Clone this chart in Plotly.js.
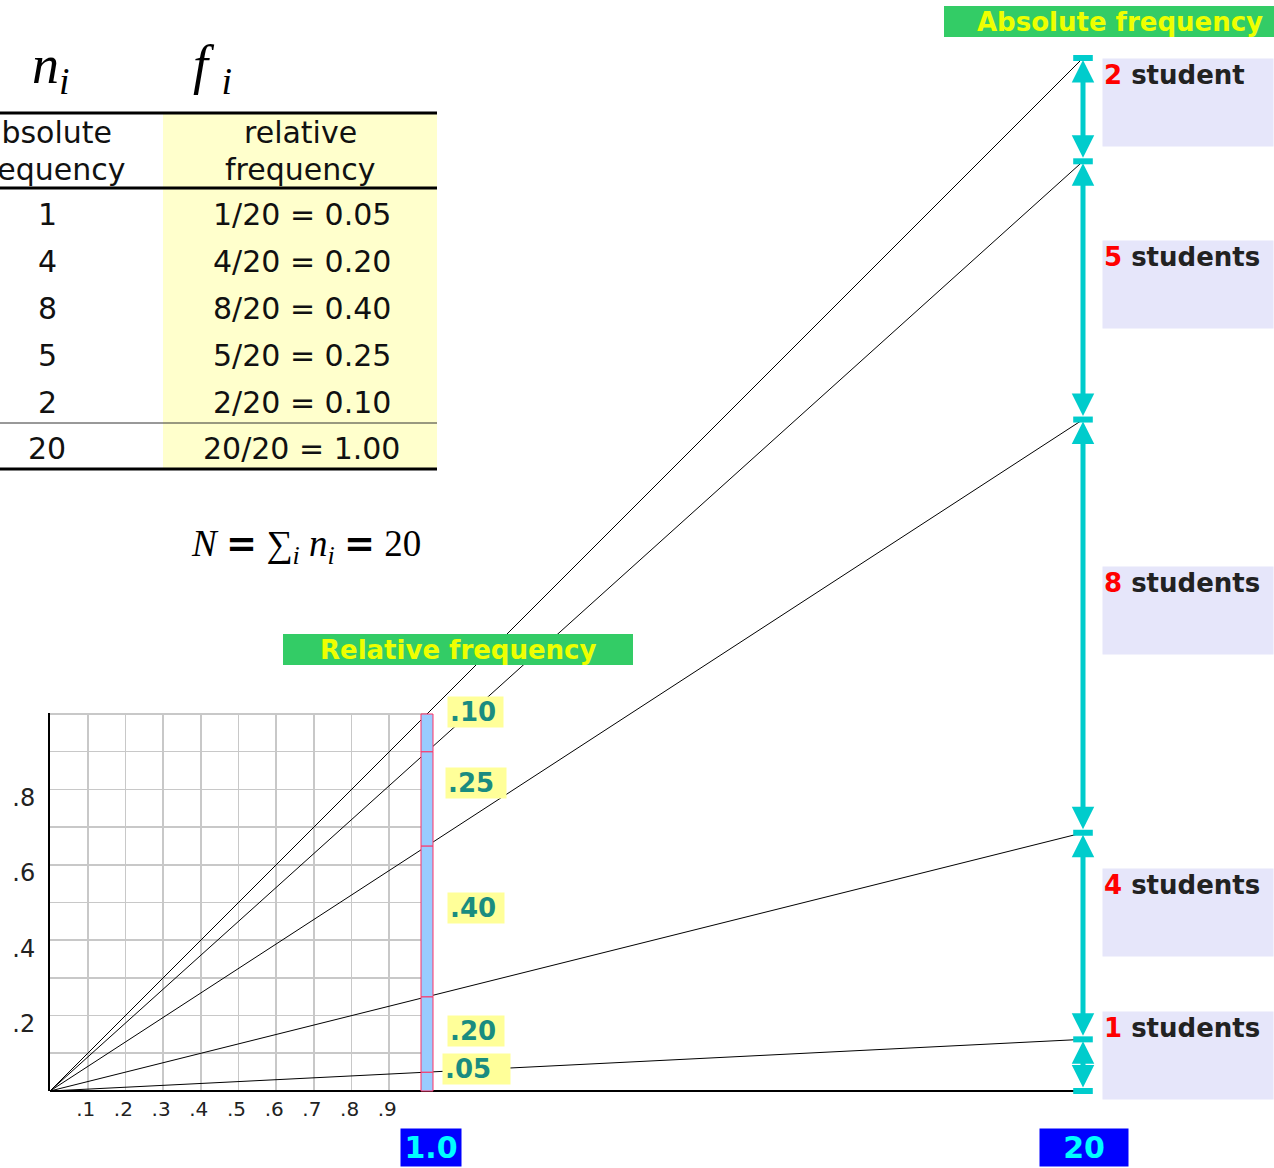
<!DOCTYPE html>
<html>
<head>
<meta charset="utf-8">
<script src="https://cdn.plot.ly/plotly-3.0.1.min.js"></script>
<style>html,body{margin:0;padding:0;background:#fff;}#chart{width:1274px;height:1168px;}</style>
</head>
<body>
<div id="chart"></div>
<script>
// ---------------- data ----------------
const absFreq = [1, 4, 8, 5, 2];            // n_i (bottom to top)
const N = 20;
const relLabels = ['.05', '.20', '.40', '.25', '.10'];
const studentWords = ['students', 'students', 'students', 'students', 'student'];
const xTickVals = [0.1, 0.2, 0.3, 0.4, 0.5, 0.6, 0.7, 0.8, 0.9];
const xTickText = ['.1', '.2', '.3', '.4', '.5', '.6', '.7', '.8', '.9'];
const yTickVals = [0.1, 0.2, 0.3, 0.4, 0.5, 0.6, 0.7, 0.8, 0.9, 1.0];
const yTickText = [' ', '.2', ' ', '.4', ' ', '.6', ' ', '.8', ' ', ' '];

// ---------------- layout geometry ----------------
const W = 1274, H = 1168;
const OX = 50, OY = 1091;          // origin pixel
const REL_UNIT = 377;              // px per 1.0 relative
const ABS_UNIT = 51.65;            // px per student
const GRID_TOP = 1.003;
const PX = x => x / W;
const PY = y => 1 - y / H;

// positions of decorations
const relLabelY = [0.0584, 0.1592, 0.4854, 0.8170, 1.0053];
const relLabelLeft = [442, 447, 447, 445, 447];
const relLabelWidth = [63, 52, 52, 56, 51];
const studentBoxTop = [1.549, 4.317, 10.165, 16.476, 20.0];

// derived
const rel = absFreq.map(n => n / N);
const cum = [0];
absFreq.forEach(n => cum.push(cum[cum.length - 1] + n));
const relBase = cum.slice(0, -1).map(c => c / N);

const traces = [];

// lines from origin to cumulative absolute points
const lx = [], ly = [];
cum.slice(1).forEach(c => { lx.push(0, N, null); ly.push(0, c, null); });
traces.push({type: 'scatter', mode: 'lines', x: lx, y: ly, xaxis: 'x2', yaxis: 'y2',
  line: {color: '#000', width: 1}, hoverinfo: 'skip', showlegend: false});
traces.push({type: 'scatter', mode: 'lines', x: [0, N], y: [0, 0], xaxis: 'x2', yaxis: 'y2',
  line: {color: '#000', width: 2}, hoverinfo: 'skip', showlegend: false});
// tick marks at cumulative points
traces.push({type: 'scatter', mode: 'markers', x: cum.map(() => N), y: cum, xaxis: 'x2', yaxis: 'y2',
  marker: {symbol: 'line-ew', size: 14, color: '#00cccc', line: {color: '#00cccc', width: 6}},
  hoverinfo: 'skip', showlegend: false, cliponaxis: false});
// stacked relative bar
traces.push({type: 'bar', x: rel.map(() => 1), y: rel, base: relBase, width: 12 / REL_UNIT,
  xaxis: 'x3', yaxis: 'y3', marker: {color: '#99ccff', line: {color: '#ff3366', width: 1}},
  hoverinfo: 'skip', showlegend: false});
// dummy trace to show grid axes
traces.push({type: 'scatter', mode: 'markers', x: [0], y: [0], xaxis: 'x', yaxis: 'y',
  marker: {size: 0.1, color: 'rgba(0,0,0,0)'}, hoverinfo: 'skip', showlegend: false});

const shapes = [];
const annotations = [];
const sans = 'DejaVu Sans';
const serif = 'Liberation Serif';
const pAnn = (x, y, text, font, extra) => annotations.push(Object.assign({xref: 'paper', yref: 'paper',
  x: PX(x), y: PY(y), text, showarrow: false, xanchor: 'center', yanchor: 'middle', font}, extra || {}));

// ---- table ----
shapes.push({type: 'rect', xref: 'paper', yref: 'paper', x0: PX(163), x1: PX(437), y0: PY(469), y1: PY(113),
  fillcolor: '#ffffcc', line: {width: 0}, layer: 'below'});
[[113, 3], [188, 3], [423, 1], [469, 3]].forEach(([y, w]) => {
  shapes.push({type: 'line', xref: 'paper', yref: 'paper', x0: 0, x1: PX(437), y0: PY(y), y1: PY(y),
    line: {color: w > 1 ? '#000' : '#333', width: w}});
});
const tFont = {family: sans, size: 30, color: '#111'};
pAnn(48, 133, 'absolute', tFont); pAnn(50, 169, 'frequency', tFont);
pAnn(300, 133, 'relative', tFont); pAnn(300, 169, 'frequency', tFont);
const rowY = [214, 261, 308, 355, 402];
absFreq.forEach((n, i) => {
  pAnn(47, rowY[i], String(n), tFont);
  pAnn(302, rowY[i], `${n}/${N} = ${(n / N).toFixed(2)}`, tFont);
});
pAnn(47, 449, String(N), tFont);
pAnn(301, 449, `${N}/${N} = ${(N / N).toFixed(2)}`, tFont);

// header symbols
pAnn(51, 68, '<i>n</i><sub><i>i</i></sub>', {family: serif, size: 54, color: '#000'});
pAnn(212, 68, '<i>f</i> <sub><i>i</i></sub>', {family: serif, size: 54, color: '#000'});
// formula
const eq = '<span style="font-family:\'DejaVu Sans\'"><b>=</b></span>';
pAnn(306, 546, `<i>N</i> ${eq} ∑<sub><i>i</i></sub> <i>n</i><sub><i>i</i></sub> ${eq} ${N}`,
  {family: serif, size: 37, color: '#000'});

// ---- banners ----
shapes.push({type: 'rect', xref: 'paper', yref: 'paper', x0: PX(283), x1: PX(633), y0: PY(665), y1: PY(634),
  fillcolor: '#33cc66', line: {width: 0}});
pAnn(458, 650, '<b>Relative frequency</b>', {family: sans, size: 26, color: '#eeff00'});
shapes.push({type: 'rect', xref: 'paper', yref: 'paper', x0: PX(944), x1: PX(1276), y0: PY(37), y1: PY(6),
  fillcolor: '#33cc66', line: {width: 0}});
pAnn(1120, 22, '<b>Absolute frequency</b>', {family: sans, size: 26, color: '#eeff00'});

// ---- relative labels on bar ----
relLabels.forEach((t, i) => {
  annotations.push({xref: 'paper', yref: 'y3', x: PX(relLabelLeft[i]), y: relLabelY[i], text: '<b>' + t + '</b>',
    showarrow: false, xanchor: 'left', yanchor: 'middle', align: 'left', width: relLabelWidth[i], height: 26,
    borderpad: 2, bgcolor: '#ffff99', font: {family: sans, size: 26, color: '#1a8c80'}});
});

// ---- arrows between cumulative points ----
for (let k = 0; k < absFreq.length; k++) {
  annotations.push({xref: 'x2', yref: 'y2', axref: 'x2', ayref: 'y2', x: N, y: cum[k + 1], ax: N, ay: cum[k],
    text: '', showarrow: true, arrowside: 'end+start', arrowhead: 2, startarrowhead: 2,
    arrowsize: 0.9, startarrowsize: 0.9, arrowwidth: 5, arrowcolor: '#00cccc', standoff: 2, startstandoff: 2});
}

// ---- student boxes ----
absFreq.forEach((n, i) => {
  annotations.push({xref: 'paper', yref: 'y2', x: PX(1102), y: studentBoxTop[i], xanchor: 'left', yanchor: 'top',
    text: `<b><span style="color:#ff0000">${n}</span> ${studentWords[i]}</b>`, showarrow: false,
    align: 'left', valign: 'top', width: 168, height: 85, borderpad: 1, bgcolor: '#e6e6fa',
    font: {family: sans, size: 26, color: '#222'}});
});

// ---- bottom value labels ----
annotations.push({xref: 'x3', yref: 'paper', x: 1, xshift: 4, y: PY(1147), xanchor: 'center', yanchor: 'middle',
  text: '<b>1.0</b>', showarrow: false,
  width: 56, height: 33, borderpad: 2, bgcolor: '#0000ff', font: {family: sans, size: 30, color: '#00ffff'}});
annotations.push({xref: 'x2', yref: 'paper', x: N, xshift: 1, y: PY(1147), xanchor: 'center', yanchor: 'middle',
  text: '<b>' + N + '</b>', showarrow: false,
  width: 84, height: 33, borderpad: 2, bgcolor: '#0000ff', font: {family: sans, size: 30, color: '#00ffff'}});

const hidden = {visible: false, fixedrange: true};
const layout = {
  width: W, height: H, margin: {l: 0, r: 0, t: 0, b: 0}, showlegend: false,
  paper_bgcolor: '#fff', plot_bgcolor: 'rgba(0,0,0,0)',
  xaxis: {domain: [PX(OX), PX(OX + REL_UNIT)], range: [0, 1], anchor: 'y',
    tickvals: xTickVals, ticktext: xTickText, showgrid: true, gridcolor: '#c8c8c8', gridwidth: 1.6,
    zeroline: false, showline: false, ticks: '', ticklabelshift: -2, ticklabelstandoff: 4,
    tickfont: {family: sans, size: 20, color: '#222'}},
  yaxis: {domain: [(H - OY) / H, (H - OY + REL_UNIT * GRID_TOP) / H], range: [0, GRID_TOP], anchor: 'x',
    tickvals: yTickVals, ticktext: yTickText, showgrid: true, gridcolor: '#c8c8c8', gridwidth: 1.6,
    zeroline: false, showline: true, linecolor: '#000', linewidth: 2, ticks: '', ticklabelshift: 8,
    ticklabelstandoff: 8, tickfont: {family: sans, size: 24, color: '#222'}},
  xaxis2: Object.assign({domain: [0, 1], anchor: 'y2', range: [-OX / ABS_UNIT, (W - OX) / ABS_UNIT]}, hidden),
  yaxis2: Object.assign({domain: [0, 1], anchor: 'x2', range: [-(H - OY) / ABS_UNIT, OY / ABS_UNIT]}, hidden),
  xaxis3: Object.assign({overlaying: 'x2', anchor: 'y3', range: [-OX / REL_UNIT, (W - OX) / REL_UNIT]}, hidden),
  yaxis3: Object.assign({overlaying: 'y2', anchor: 'x3', range: [-(H - OY) / REL_UNIT, OY / REL_UNIT]}, hidden),
  shapes, annotations
};
Plotly.newPlot('chart', traces, layout, {staticPlot: true, displayModeBar: false});
</script>
</body>
</html>
